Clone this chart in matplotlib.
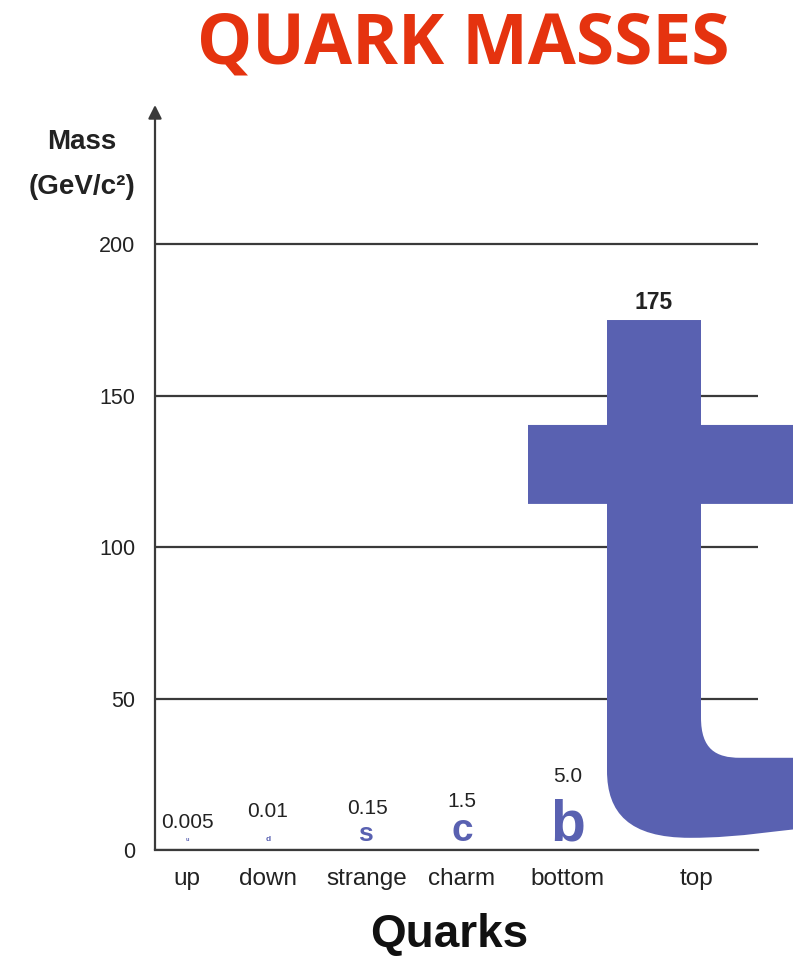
import numpy as np
import matplotlib.pyplot as plt
from matplotlib.path import Path
from matplotlib.patches import PathPatch

# quark data
quarks = ['up', 'down', 'strange', 'charm', 'bottom', 'top']
letters = ['u', 'd', 's', 'c', 'b', 't']
masses = [0.005, 0.01, 0.15, 1.5, 5.0, 175]
mass_labels = ['0.005', '0.01', '0.15', '1.5', '5.0', '175']

# layout (x in units of 100 px from the y axis)
label_x = [0.32, 1.13, 2.12, 3.07, 4.13, 5.42]
letter_x = [0.32, 1.13, 2.10, 3.07, 4.13, 4.99]
letter_size = [4, 6, 19, 28, 41]
label_offset = [20, 28, 30, 35, 53]   # points above the axis

BLUE = '#5961B1'
RED = '#E5330F'
GRID = '#3a3a3a'

fig = plt.figure(figsize=(7.93, 9.56), dpi=100)
ax = fig.add_axes([155 / 793, 106 / 956, 603 / 793, 745 / 956])
ax.set_xlim(0, 6.03)
ax.set_ylim(0, 246)

for s in ['top', 'right', 'left']:
    ax.spines[s].set_visible(False)
ax.spines['bottom'].set_color(GRID)
ax.spines['bottom'].set_linewidth(1.6)

ax.set_yticks([0, 50, 100, 150, 200])
ax.yaxis.grid(True, color=GRID, linewidth=1.6)
ax.set_axisbelow(True)
ax.tick_params(axis='y', length=0, pad=14, labelsize=15.5, labelcolor='#222222')
ax.set_xticks(label_x)
ax.set_xticklabels(quarks)
ax.tick_params(axis='x', length=0, pad=13, labelsize=17.5, labelcolor='#222222')
for lab in ax.get_xticklabels() + ax.get_yticklabels():
    lab.set_fontfamily('Liberation Sans')

# y axis with arrow head
ax.annotate('', xy=(0, 1.0), xytext=(0, 0), xycoords='axes fraction',
            arrowprops=dict(arrowstyle='-|>', color=GRID, lw=1.6,
                            mutation_scale=20, shrinkA=0, shrinkB=0))

# small quarks drawn as letters
for i in range(5):
    ax.annotate(letters[i], xy=(letter_x[i], 0), xytext=(0, 6.5),
                textcoords='offset points', ha='center', va='baseline',
                fontsize=letter_size[i], fontweight='bold', color=BLUE,
                family='Liberation Sans')
    ax.annotate(mass_labels[i], xy=(label_x[i], 0), xytext=(0, label_offset[i]),
                textcoords='offset points', ha='center', va='center',
                fontsize=15, color='#222222', family='Liberation Sans')

# top quark: a giant "t" whose height is its mass
m = masses[5]
cx = letter_x[5]
hw = 0.47
t_outline = [
    (Path.MOVETO, (-hw, 1.0)),
    (Path.LINETO, (hw, 1.0)),
    (Path.LINETO, (hw, 0.802)),
    (Path.LINETO, (1.9, 0.802)),
    (Path.LINETO, (1.9, 0.653)),
    (Path.LINETO, (hw, 0.653)),
    (Path.LINETO, (hw, 0.25)),
    (Path.CURVE4, (hw, 0.19)),
    (Path.CURVE4, (0.62, 0.174)),
    (Path.CURVE4, (0.86, 0.174)),
    (Path.LINETO, (1.9, 0.174)),
    (Path.LINETO, (1.9, 0.048)),
    (Path.CURVE4, (1.2, 0.038)),
    (Path.CURVE4, (0.9, 0.023)),
    (Path.CURVE4, (0.36, 0.023)),
    (Path.CURVE4, (-0.25, 0.023)),
    (Path.CURVE4, (-hw, 0.07)),
    (Path.CURVE4, (-hw, 0.15)),
    (Path.LINETO, (-hw, 0.653)),
    (Path.LINETO, (-1.26, 0.653)),
    (Path.LINETO, (-1.26, 0.802)),
    (Path.LINETO, (-hw, 0.802)),
    (Path.CLOSEPOLY, (-hw, 1.0)),
]
codes = [c for c, _ in t_outline]
verts = np.array([p for _, p in t_outline])
verts[:, 0] += cx
verts[:, 1] *= m
ax.add_patch(PathPatch(Path(verts, codes), facecolor=BLUE, edgecolor='none',
                       zorder=3, clip_on=False))
ax.annotate(mass_labels[5], xy=(cx, m), xytext=(0, 4), textcoords='offset points',
            ha='center', va='bottom', fontsize=16.5, fontweight='bold',
            color='#222222', family='Liberation Sans')

# titles
fig.text(0.584, 0.952, 'QUARK MASSES', ha='center', va='center', fontsize=50,
         fontweight='bold', color=RED, family='Open Sans')
fig.text(0.103, 0.851, 'Mass', ha='center', va='center', fontsize=20,
         fontweight='bold', color='#222222', family='Liberation Sans')
fig.text(0.103, 0.804, '(GeV/c²)', ha='center', va='center', fontsize=20,
         fontweight='bold', color='#222222', family='Liberation Sans')
fig.text(0.566, 0.022, 'Quarks', ha='center', va='center', fontsize=33,
         fontweight='bold', color='#111111', family='Liberation Sans')

fig.savefig('out.png', dpi=100, facecolor='white')
